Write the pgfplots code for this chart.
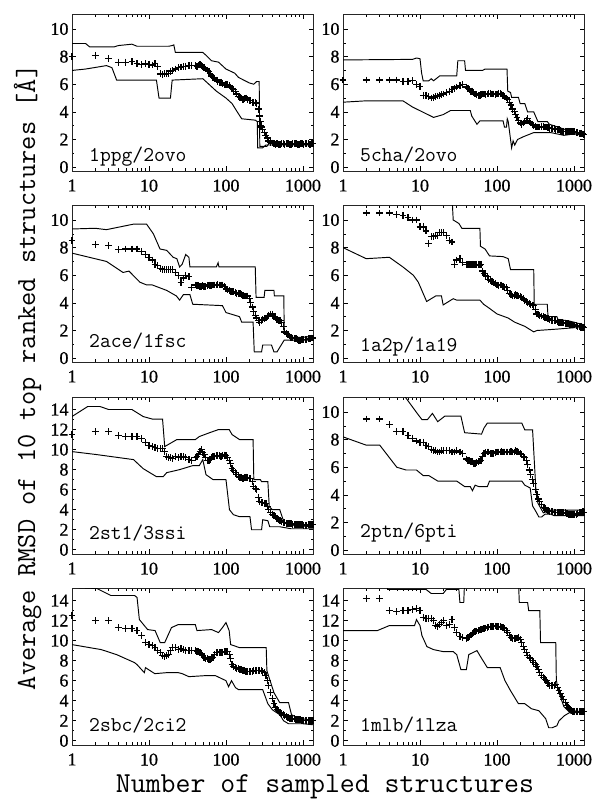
\documentclass[border=0pt]{standalone}
\usepackage{fontspec}
\setmainfont{Liberation Serif}
\usepackage{pgfplots}
\pgfplotsset{compat=1.18}
\pgfkeys{/pgf/number format/assume math mode=true}
\pgfplotsset{
 every tick/.append style={black, line width=0.6pt},
 rmsdpanel/.style={
   scale only axis, width=241pt, height=156.5pt, anchor=south west,
   xmin=1, xmax=1350,
   xtick={1,10,100,1000}, xticklabels={1,10,100,1000},
   minor xtick={2,3,4,5,6,7,8,9,20,30,40,50,60,70,80,90,200,300,400,500,600,700,800,900},
   tick align=inside,
   major tick length=4.5pt, minor tick length=2.5pt,
   axis line style={black!85, line width=0.8pt},
   tick label style={font=\addfontfeatures{FakeBold=0.8}\fontsize{18}{18}\selectfont},
   x tick label style={yshift=-5pt},
 },
 rangeten/.style={ymin=-0.28, ymax=11.05, ytick={0,2,4,6,8,10}, minor y tick num=1},
 rangefourteen/.style={ymin=-0.42, ymax=15.2, ytick={0,2,4,6,8,10,12,14}, minor y tick num=1},
}
\tikzset{
 bndline/.style={black, line width=0.95pt},
 ptsmark/.style={black, only marks, mark=+, mark size=3.4pt, mark options={line width=1.25pt}},
 panellab/.style={font=\ttfamily\addfontfeatures{FakeBold=1.5}\fontsize{21}{21}\selectfont, anchor=base west, inner sep=0pt},
}
\begin{document}
\begin{tikzpicture}
\useasboundingbox (0pt,0pt) rectangle (596pt,799pt);

% ---------- 1ppg/2ovo ----------
\begin{semilogxaxis}[rmsdpanel, rangeten, at={(72pt,628pt)}]
\addplot[bndline, no marks] coordinates {(1,8.95)(1.5,8.95)(1.7,8.7)(3.5,8.7)(4,8.8)(6,8.9)(7,8.75)(18,8.75)(20,8.8)(21,8.85)(22,8.3)(50,8.3)(55,8.1)(65,7.7)(80,7.6)(100,7.1)(130,6.8)(145,6.5)(170,6.3)(200,6.1)(230,6.0)(250,6.2)(270,6.2)(275,1.5)(340,1.5)(360,1.7)(1350,1.7)};
\addplot[bndline, no marks] coordinates {(1,7.0)(1.5,7.1)(2.8,7.35)(3.3,7.2)(3.8,6.3)(12.5,6.3)(13.5,5.0)(19,5.0)(20,6.3)(50,6.4)(60,6.0)(75,5.5)(100,5.0)(120,4.6)(140,4.0)(160,3.5)(240,3.4)(255,3.3)(258,1.4)(300,1.4)(330,1.6)(1350,1.6)};
\addplot[ptsmark] coordinates {(1,8.0)(2,8.1)(3,7.85)(4,7.6)(5,7.6)(6,7.65)(7,7.5)(8,7.45)(9,7.5)(10,7.45)(11,7.4)(12,7.5)(13,7.3)(14,6.75)(15,6.7)(16,6.75)(17,6.8)(18,6.8)(19,6.95)(20,7.0)(22,7.1)(24,7.2)(26,7.25)(28,7.3)(30,7.3)(33,7.35)(36,7.35)(40,7.35)(44,7.4)(48,7.35)(52,7.2)(57,7.0)(62,6.8)(68,6.5)(75,6.3)(82,6.1)(90,6.05)(100,6.0)(110,5.9)(120,5.7)(132,5.5)(145,5.1)(160,5.0)(175,4.95)(190,4.9)(210,4.8)(230,4.7)(250,4.6)(272,3.7)(285,3.0)(300,2.7)(330,2.3)(360,1.9)(400,1.75)(440,1.65)(480,1.65)(530,1.7)(580,1.65)(640,1.7)(700,1.65)(770,1.7)(850,1.65)(930,1.7)(1020,1.65)(1120,1.7)(1230,1.65)(1350,1.7)
(42,7.3)(46,7.45)(50,7.3)(54,7.1)(60,6.9)(65,6.6)(71,6.45)(78,6.2)(86,6.15)(95,5.95)(105,6.0)(115,5.8)(126,5.6)(138,5.3)(152,5.05)(167,4.9)(182,5.0)(200,4.85)(220,4.7)(240,4.65)(262,4.2)(280,3.3)(292,2.9)(315,2.5)(345,2.1)(380,1.8)(420,1.7)(460,1.7)(505,1.65)(555,1.7)(610,1.7)(670,1.65)(735,1.7)(810,1.7)(890,1.65)(975,1.7)(1070,1.7)(1175,1.7)(1290,1.7)};
\node[panellab, xshift=17pt, yshift=9pt] at (rel axis cs:0,0) {1ppg/2ovo};
\end{semilogxaxis}

% ---------- 5cha/2ovo ----------
\begin{semilogxaxis}[rmsdpanel, rangeten, at={(343pt,628pt)}]
\addplot[bndline, no marks] coordinates {(1,7.76)(8,7.8)(9,7.9)(10,7.85)(10.5,6.8)(11,6.25)(13,6.25)(14,6.4)(15,6.25)(18,6.6)(30,6.6)(31,7.7)(38,7.7)(39,7.0)(65,7.0)(70,7.1)(135,7.1)(138,5.5)(150,5.4)(155,5.05)(190,5.05)(200,4.6)(230,4.6)(250,4.0)(300,4.0)(340,3.3)(450,3.3)(480,3.1)(700,2.8)(1000,2.5)(1350,2.3)};
\addplot[bndline, no marks] coordinates {(1,4.7)(2,4.8)(6,4.8)(8,4.35)(15,3.6)(20,3.8)(25,4.1)(45,4.1)(47,3.7)(55,3.1)(60,3.35)(120,3.35)(125,2.9)(133,2.9)(136,3.5)(140,3.3)(155,1.4)(162,1.9)(170,1.6)(185,2.0)(220,2.2)(300,2.5)(500,2.5)(740,2.3)(1000,2.4)(1350,2.3)};
\addplot[ptsmark] coordinates {(1,6.3)(2,6.3)(3,6.3)(4,6.3)(5,6.3)(6,6.2)(7,6.2)(8,6.25)(9,6.0)(10,5.85)(11,5.2)(12,5.2)(13,5.1)(14,5.0)(15,5.05)(16,5.1)(17,5.15)(18,5.2)(19,5.25)(20,5.3)(22,5.4)(24,5.5)(26,5.6)(28,5.7)(30,5.8)(33,5.9)(36,6.0)(40,5.8)(44,5.6)(48,5.5)(52,5.3)(57,5.2)(62,5.25)(68,5.3)(75,5.3)(82,5.35)(90,5.3)(100,5.3)(110,5.35)(120,5.2)(132,5.0)(145,4.7)(160,4.2)(175,3.8)(190,3.4)(210,3.1)(230,3.3)(250,3.5)(275,3.2)(300,3.0)(330,2.9)(360,2.9)(400,2.95)(440,2.9)(480,2.8)(530,2.8)(580,2.75)(640,2.7)(700,2.6)(770,2.6)(850,2.6)(930,2.6)(1020,2.55)(1120,2.5)(1230,2.45)(1350,2.35)
(42,5.7)(46,5.5)(50,5.4)(54,5.25)(60,5.2)(65,5.3)(71,5.25)(78,5.35)(86,5.3)(95,5.25)(105,5.35)(115,5.3)(126,5.1)(138,4.9)(152,4.5)(167,4.0)(182,3.6)(200,3.2)(220,3.2)(240,3.4)(262,3.3)(287,3.1)(315,2.95)(345,2.9)(380,2.95)(420,2.9)(460,2.85)(505,2.8)(555,2.8)(610,2.7)(670,2.65)(735,2.6)(810,2.6)(890,2.6)(975,2.55)(1070,2.5)(1175,2.45)(1290,2.4)};
\node[panellab, xshift=17pt, yshift=9pt] at (rel axis cs:0,0) {5cha/2ovo};
\end{semilogxaxis}

% ---------- 2ace/1fsc ----------
\begin{semilogxaxis}[rmsdpanel, rangeten, at={(72pt,437pt)}]
\addplot[bndline, no marks] coordinates {(1,9.35)(2,9.4)(2.8,9.3)(6.3,9.7)(9.3,9.7)(11.4,9.0)(13.9,7.9)(17,7.8)(20.6,7.3)(23,7.2)(25,6.6)(27,6.8)(30,7.5)(33,7.3)(34,6.6)(75,6.6)(79,6.9)(81,6.6)(240,6.6)(246,4.4)(313,4.4)(320,4.9)(420,4.9)(425,4.5)(565,4.5)(570,1.8)(700,1.5)(1000,1.5)(1350,1.6)};
\addplot[bndline, no marks] coordinates {(1,7.6)(2.8,7.0)(4.6,6.2)(5.5,6.3)(7.6,5.5)(9.3,5.3)(11,5.3)(17,4.9)(22.7,4.5)(25,4.2)(28,4.6)(34,4.6)(37,3.9)(90,3.8)(100,3.3)(150,3.0)(160,2.6)(225,2.6)(233,0.45)(290,0.45)(300,0.95)(390,0.95)(420,0.45)(460,0.45)(570,1.3)(1350,1.3)};
\addplot[ptsmark] coordinates {(1,8.5)(2,8.2)(3,8.15)(4,7.85)(5,7.9)(6,7.9)(7,7.9)(8,7.7)(9,7.5)(10,7.3)(11,7.1)(12,6.8)(13,6.7)(14,6.5)(15,6.4)(16,6.4)(17,6.4)(18,6.4)(19,6.4)(20,6.4)(22,6.2)(24,6.0)(26,5.5)(28,5.8)(30,6.0)(33,5.9)(36,5.1)(40,5.3)(44,5.25)(48,5.2)(52,5.2)(57,5.25)(62,5.25)(68,5.3)(75,5.3)(82,5.3)(90,5.3)(100,5.0)(110,4.9)(120,4.8)(132,4.75)(145,4.7)(160,4.6)(175,4.5)(190,4.5)(210,4.0)(230,3.4)(250,2.9)(275,2.6)(300,2.8)(330,2.9)(360,3.1)(400,3.2)(440,2.9)(480,2.7)(530,2.6)(580,1.9)(640,1.7)(700,1.5)(770,1.4)(850,1.35)(930,1.3)(1020,1.35)(1120,1.35)(1230,1.4)(1350,1.45)
(42,5.25)(46,5.2)(50,5.25)(54,5.2)(60,5.3)(65,5.25)(71,5.3)(78,5.35)(86,5.3)(95,5.2)(105,4.95)(115,4.85)(126,4.8)(138,4.7)(152,4.65)(167,4.55)(182,4.5)(200,4.3)(220,3.7)(240,3.1)(262,2.7)(287,2.7)(315,2.85)(345,3.0)(380,3.2)(420,3.0)(460,2.8)(505,2.7)(555,2.3)(610,1.8)(670,1.6)(735,1.45)(810,1.4)(890,1.3)(975,1.35)(1070,1.35)(1175,1.4)(1290,1.45)};
\node[panellab, xshift=17pt, yshift=14pt] at (rel axis cs:0,0) {2ace/1fsc};
\end{semilogxaxis}

% ---------- 1a2p/1a19 ----------
\begin{semilogxaxis}[rmsdpanel, rangeten, at={(343pt,437pt)}]
\addplot[bndline, no marks] coordinates {(1,13)(10,12.5)(26,11.8)(27,10.0)(32,9.75)(35,9.4)(60,9.4)(61,8.1)(70,7.9)(80,7.4)(120,7.35)(140,7.2)(150,6.4)(300,6.4)(305,3.9)(450,3.9)(460,3.0)(600,3.0)(620,2.8)(850,2.7)(1000,2.6)(1350,2.4)};
\addplot[bndline, no marks] coordinates {(1,8.0)(2,7.2)(4,7.3)(6,6.6)(8.2,6.0)(9.5,5.5)(12.2,4.1)(16,4.5)(19,4.5)(20,3.85)(27,4.3)(30,4.2)(60,4.2)(67,3.9)(80,3.6)(100,3.2)(140,2.9)(170,2.6)(230,2.3)(300,1.9)(330,2.0)(600,2.1)(1000,2.2)(1350,2.2)};
\addplot[ptsmark] coordinates {(2,10.5)(3,10.5)(4,10.5)(5,10.4)(6,10.3)(7,10.2)(8,10.0)(9,10.0)(10,9.5)(11,9.5)(12,9.2)(13,8.3)(14,8.8)(15,8.8)(16,8.9)(17,8.9)(18,9.1)(19,9.1)(20,9.1)(22,8.9)(24,8.5)(26,8.4)(28,6.8)(30,7.1)(33,7.2)(36,6.9)(40,6.8)(44,6.8)(48,6.8)(52,6.8)(57,6.8)(62,6.8)(68,6.1)(75,5.9)(82,5.6)(90,5.5)(100,5.3)(110,5.3)(120,5.2)(132,5.1)(145,4.7)(160,4.5)(175,4.6)(190,4.5)(210,4.4)(230,4.2)(250,4.0)(275,3.9)(300,3.8)(330,3.2)(360,3.1)(400,3.0)(440,2.9)(480,2.8)(530,2.7)(580,2.7)(640,2.6)(700,2.6)(770,2.5)(850,2.5)(930,2.4)(1020,2.4)(1120,2.3)(1230,2.3)(1350,2.2)
(42,6.8)(46,6.75)(50,6.8)(54,6.8)(60,6.75)(65,6.3)(71,6.0)(78,5.7)(86,5.55)(95,5.4)(105,5.25)(115,5.3)(126,5.15)(138,4.9)(152,4.6)(167,4.55)(182,4.55)(200,4.45)(220,4.3)(240,4.1)(262,3.95)(287,3.85)(315,3.5)(345,3.15)(380,3.05)(420,2.95)(460,2.85)(505,2.75)(555,2.7)(610,2.65)(670,2.6)(735,2.55)(810,2.5)(890,2.45)(975,2.4)(1070,2.35)(1175,2.3)(1290,2.25)};
\node[panellab, xshift=17pt, yshift=10pt] at (rel axis cs:0,0) {1a2p/1a19};
\end{semilogxaxis}

% ---------- 2st1/3ssi ----------
\begin{semilogxaxis}[rmsdpanel, rangefourteen, at={(72pt,245pt)}]
\addplot[bndline, no marks] coordinates {(1,13.3)(1.6,14.3)(2.3,14.3)(3,14.0)(6,14.0)(8.4,13.3)(11,13.05)(15,13.05)(16,10.3)(23,11.0)(40,11.0)(45,11.3)(62,11.7)(80,12.0)(110,12.0)(120,11.5)(150,11.0)(225,11.0)(230,7.0)(280,7.0)(290,6.8)(350,6.8)(365,4.3)(400,4.0)(500,4.0)(570,2.7)(800,2.4)(1350,2.3)};
\addplot[bndline, no marks] coordinates {(1,9.8)(2.1,9.5)(6.3,9.0)(8.4,8.1)(12.5,7.3)(15.3,7.3)(17,7.7)(25,8.0)(37,8.4)(45,8.4)(50,9.0)(55,7.5)(68,7.0)(100,7.0)(111,4.0)(125,3.5)(150,3.3)(205,3.3)(215,2.0)(290,2.0)(300,3.0)(350,2.9)(370,2.3)(500,2.3)(700,2.1)(1350,2.1)};
\addplot[ptsmark] coordinates {(1,11.5)(2,11.8)(3,11.8)(4,11.4)(5,11.3)(6,11.3)(7,11.3)(8,11.1)(9,10.7)(10,10.4)(11,10.3)(12,10.2)(13,10.1)(14,10.1)(15,10.1)(16,9.8)(17,9.3)(18,9.2)(19,9.2)(20,9.1)(22,9.3)(24,9.2)(26,9.3)(28,9.3)(30,9.2)(33,9.0)(36,8.9)(40,9.2)(44,9.5)(48,10.0)(52,9.5)(57,8.9)(62,9.0)(68,9.3)(75,9.4)(82,9.4)(90,9.4)(100,9.4)(110,8.9)(120,8.1)(132,7.7)(145,7.3)(160,7.2)(175,7.2)(190,7.2)(210,7.1)(230,6.3)(250,6.0)(275,4.8)(300,4.7)(330,4.6)(360,4.0)(400,3.5)(440,3.3)(480,3.0)(530,2.8)(580,2.7)(640,2.6)(700,2.6)(770,2.5)(850,2.5)(930,2.5)(1020,2.45)(1120,2.45)(1230,2.5)(1350,2.5)
(42,9.3)(46,9.8)(50,9.7)(54,9.2)(60,8.9)(65,9.2)(71,9.35)(78,9.4)(86,9.35)(95,9.45)(105,9.2)(115,8.6)(126,7.9)(138,7.5)(152,7.2)(167,7.15)(182,7.25)(200,7.1)(220,6.8)(240,6.1)(262,5.2)(287,4.7)(315,4.65)(345,4.3)(380,3.7)(420,3.4)(460,3.1)(505,2.9)(555,2.75)(610,2.65)(670,2.6)(735,2.55)(810,2.5)(890,2.5)(975,2.5)(1070,2.45)(1175,2.5)(1290,2.5)};
\node[panellab, xshift=17pt, yshift=14pt] at (rel axis cs:0,0) {2st1/3ssi};
\end{semilogxaxis}

% ---------- 2ptn/6pti ----------
\begin{semilogxaxis}[rmsdpanel, rangeten, at={(343pt,245pt)}]
\addplot[bndline, no marks] coordinates {(1,13)(5,12)(6.4,11.1)(9.2,9.9)(10.6,9.45)(12.5,9.45)(14.5,9.9)(17,9.3)(21,9.7)(34,9.7)(38,8.5)(63,8.4)(68,8.85)(75,9.2)(210,9.2)(230,8.7)(290,8.7)(320,4.4)(340,3.4)(400,2.7)(500,2.9)(1350,2.9)};
\addplot[bndline, no marks] coordinates {(1,8.2)(2,7.6)(3,7.6)(5,6.0)(6.6,5.8)(9,5.8)(11,5.4)(13,5.4)(17,5.0)(30,5.0)(38,4.6)(45,4.6)(48,4.3)(52,4.7)(58,4.6)(75,4.6)(80,5.0)(210,5.0)(230,4.7)(270,4.5)(290,3.2)(320,2.8)(350,2.4)(380,2.4)(420,2.6)(500,2.6)(550,2.5)(1350,2.5)};
\addplot[ptsmark] coordinates {(2,9.5)(3,9.5)(4,9.1)(5,8.6)(6,8.6)(7,8.3)(8,8.1)(9,7.9)(10,7.8)(11,7.8)(12,7.6)(13,7.5)(14,7.3)(15,7.2)(16,7.2)(17,7.1)(18,7.1)(19,7.2)(20,7.2)(22,7.2)(24,7.2)(26,7.1)(28,7.1)(30,7.2)(33,7.1)(36,7.0)(40,6.6)(44,6.5)(48,6.4)(52,6.3)(57,6.4)(62,6.5)(68,7.0)(75,7.1)(82,7.0)(90,7.0)(100,7.1)(110,7.1)(120,7.1)(132,7.1)(145,7.1)(160,7.1)(175,7.2)(190,7.1)(210,6.9)(230,6.7)(250,6.2)(275,5.5)(300,4.8)(330,4.0)(360,3.5)(400,3.1)(440,2.9)(480,2.8)(530,2.8)(580,2.7)(640,2.7)(700,2.7)(770,2.7)(850,2.6)(930,2.6)(1020,2.6)(1120,2.65)(1230,2.7)(1350,2.75)
(42,6.5)(46,6.4)(50,6.3)(54,6.35)(60,6.45)(65,6.8)(71,7.05)(78,7.1)(86,7.0)(95,7.05)(105,7.1)(115,7.15)(126,7.1)(138,7.1)(152,7.15)(167,7.1)(182,7.15)(200,7.0)(220,6.8)(240,6.5)(262,5.8)(287,5.1)(315,4.4)(345,3.7)(380,3.3)(420,3.0)(460,2.85)(505,2.8)(555,2.75)(610,2.7)(670,2.7)(735,2.7)(810,2.65)(890,2.6)(975,2.6)(1070,2.6)(1175,2.7)(1290,2.7)};
\node[panellab, xshift=17pt, yshift=16pt] at (rel axis cs:0,0) {2ptn/6pti};
\end{semilogxaxis}

% ---------- 2sbc/2ci2 ----------
\begin{semilogxaxis}[rmsdpanel, rangefourteen, at={(72pt,54pt)}]
\addplot[bndline, no marks] coordinates {(1,15.3)(2.1,15.2)(3.2,14.5)(6.5,14.5)(7,14.3)(7.5,12.1)(9.6,11.1)(12,11.0)(14,9.8)(16,9.8)(19.6,11.3)(24,11.6)(40,11.6)(42,11.0)(65,11.1)(80,10.8)(90,11.3)(100,11.8)(110,11.0)(115,9.6)(150,9.3)(333,9.3)(340,7.0)(420,4.8)(500,3.8)(650,3.8)(710,2.6)(850,2.3)(1350,2.0)};
\addplot[bndline, no marks] coordinates {(1,9.6)(2.4,9.1)(3.8,8.6)(6.5,7.8)(7,7.6)(8.7,6.8)(9,7.3)(11.9,6.7)(17,6.8)(24,6.8)(27,6.7)(33,6.4)(53,6.5)(73,6.5)(100,6.0)(108,5.4)(118,6.0)(133,5.3)(146,5.1)(300,5.1)(350,3.7)(400,3.1)(500,2.6)(560,2.0)(650,1.7)(1000,1.7)(1350,1.6)};
\addplot[ptsmark] coordinates {(1,12.5)(2,12.0)(3,12.0)(4,11.3)(5,11.2)(6,11.2)(7,11.0)(8,10.5)(9,9.8)(10,9.6)(11,9.5)(12,9.3)(13,9.0)(14,8.8)(15,8.5)(16,8.4)(17,8.5)(18,8.6)(19,9.0)(20,9.3)(22,9.3)(24,9.1)(26,9.2)(28,9.1)(30,9.0)(33,9.0)(36,9.0)(40,9.0)(44,8.9)(48,8.7)(52,8.3)(57,8.2)(62,8.1)(68,8.3)(75,8.8)(82,8.8)(90,8.8)(100,8.9)(110,8.6)(120,7.6)(132,7.3)(145,7.2)(160,7.1)(175,7.0)(190,6.9)(210,6.9)(230,7.0)(250,7.0)(275,7.0)(300,6.9)(330,6.5)(360,5.5)(400,4.2)(440,3.3)(480,3.0)(530,2.7)(580,2.5)(640,2.3)(700,2.2)(770,2.2)(850,2.1)(930,2.1)(1020,2.0)(1120,2.0)(1230,2.0)(1350,2.0)
(42,8.95)(46,8.8)(50,8.5)(54,8.2)(60,8.1)(65,8.2)(71,8.6)(78,8.8)(86,8.85)(95,8.9)(105,8.9)(115,8.2)(126,7.4)(138,7.25)(152,7.15)(167,7.05)(182,6.95)(200,6.9)(220,6.95)(240,7.0)(262,7.05)(287,7.0)(315,6.8)(345,6.0)(380,4.8)(420,3.7)(460,3.1)(505,2.85)(555,2.6)(610,2.4)(670,2.25)(735,2.2)(810,2.15)(890,2.1)(975,2.05)(1070,2.0)(1175,2.0)(1290,2.0)};
\node[panellab, xshift=17pt, yshift=13pt] at (rel axis cs:0,0) {2sbc/2ci2};
\end{semilogxaxis}

% ---------- 1mlb/1lza ----------
\begin{semilogxaxis}[rmsdpanel, rangefourteen, at={(343pt,54pt)}]
\addplot[bndline, no marks] coordinates {(1,16)(3.7,16)(3.8,15.1)(12,15.1)(14,14.7)(20,14.7)(22,15.1)(32,15.1)(33,13.8)(37,13.8)(38,16)(190,16)(195,13.8)(250,13.8)(258,13.0)(360,13.0)(368,9.8)(580,9.8)(590,6.1)(620,5.1)(740,3.4)(900,2.75)(1350,2.9)};
\addplot[bndline, no marks] coordinates {(1,11.0)(2.8,11.0)(4,11.5)(8.5,11.5)(9,12.1)(10,11.5)(10.6,10.5)(12.3,9.4)(15,9.1)(20,8.9)(27,8.9)(30,8.6)(34,7.1)(40,7.1)(43,8.6)(55,9.0)(60,8.5)(75,7.3)(110,7.3)(127,6.0)(150,5.0)(190,3.7)(230,3.7)(280,3.2)(350,3.0)(430,2.2)(470,1.3)(520,1.3)(600,1.5)(640,2.0)(750,2.5)(960,3.0)(1350,2.9)};
\addplot[ptsmark] coordinates {(2,14.2)(3,14.2)(4,13.0)(5,12.9)(6,13.0)(7,13.0)(8,13.1)(9,13.2)(10,13.0)(11,12.3)(12,12.2)(13,12.2)(14,12.2)(15,12.0)(16,11.5)(17,11.4)(18,11.6)(19,11.8)(20,12.0)(22,11.5)(24,11.6)(26,12.1)(28,11.3)(30,10.8)(33,10.4)(36,10.3)(40,10.2)(44,10.4)(48,10.7)(52,10.9)(57,11.0)(62,11.1)(68,11.2)(75,11.3)(82,11.4)(90,11.4)(100,11.4)(110,11.4)(120,11.3)(132,11.0)(145,10.5)(160,10.2)(175,10.2)(190,10.3)(210,9.8)(230,9.1)(250,8.5)(275,8.2)(300,7.8)(330,7.4)(360,6.8)(400,6.3)(440,6.0)(480,5.5)(530,5.5)(580,5.6)(640,5.0)(700,4.4)(770,3.8)(850,3.3)(930,3.0)(1020,2.9)(1120,2.9)(1230,2.9)(1350,2.9)
(42,10.3)(46,10.55)(50,10.8)(54,10.95)(60,11.05)(65,11.15)(71,11.25)(78,11.35)(86,11.4)(95,11.45)(105,11.4)(115,11.35)(126,11.2)(138,10.8)(152,10.3)(167,10.2)(182,10.25)(200,10.1)(220,9.4)(240,8.8)(262,8.3)(287,8.0)(315,7.6)(345,7.1)(380,6.5)(420,6.1)(460,5.7)(505,5.5)(555,5.55)(610,5.3)(670,4.7)(735,4.1)(810,3.5)(890,3.1)(975,2.95)(1070,2.9)(1175,2.9)(1290,2.9)};
\node[panellab, xshift=17pt, yshift=13pt] at (rel axis cs:0,0) {1mlb/1lza};
\end{semilogxaxis}

% ---------- axis titles ----------
\node[anchor=base, font=\ttfamily\addfontfeatures{FakeBold=1.2}\fontsize{29}{29}\selectfont, inner sep=0pt] at (325pt,6pt) {Number of sampled structures};
\node[anchor=base, rotate=90, font=\ttfamily\addfontfeatures{FakeBold=1.2}\fontsize{27.6}{27.6}\selectfont, inner sep=0pt] at (35pt,421.5pt) {Average RMSD of 10 top ranked structures [Å]};
\end{tikzpicture}
\end{document}
